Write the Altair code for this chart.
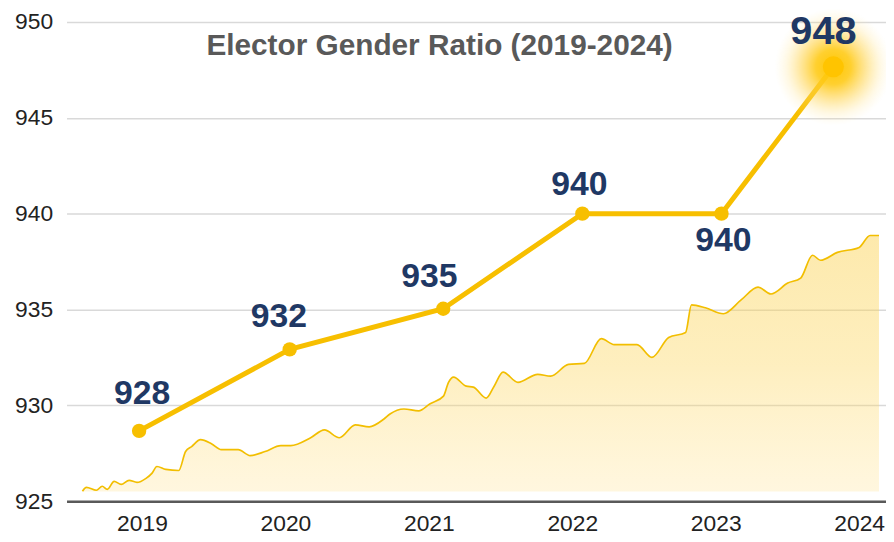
import altair as alt
import pandas as pd

# ---- data ----
years = [2018.98, 2020.03, 2021.10, 2022.07, 2023.04, 2023.82]
ratio = [928.67, 932.92, 935.04, 940.0, 940.0, 947.66]
ratio_labels = ["928", "932", "935", "940", "940", "948"]

trend_year = [
    2018.585, 2018.613, 2018.682, 2018.723, 2018.758, 2018.806, 2018.855, 2018.910,
    2018.965, 2019.028, 2019.069, 2019.104, 2019.166, 2019.256, 2019.304, 2019.346,
    2019.408, 2019.484, 2019.553, 2019.671, 2019.754, 2019.858, 2019.968, 2020.037,
    2020.176, 2020.272, 2020.376, 2020.487, 2020.584, 2020.687, 2020.729, 2020.826,
    2020.929, 2021.006, 2021.102, 2021.137, 2021.172, 2021.261, 2021.310, 2021.400,
    2021.455, 2021.517, 2021.621, 2021.759, 2021.849, 2021.974, 2022.084, 2022.202,
    2022.292, 2022.451, 2022.555, 2022.672, 2022.790, 2022.831, 2022.928, 2023.053,
    2023.177, 2023.295, 2023.385, 2023.502, 2023.592, 2023.675, 2023.730, 2023.848,
    2024.000, 2024.076, 2024.138,
]
trend_ratio = [
    925.52, 925.72, 925.57, 925.78, 925.62, 926.03, 925.88, 926.09,
    925.98, 926.19, 926.45, 926.81, 926.66, 926.60, 927.59, 927.85,
    928.21, 928.00, 927.69, 927.69, 927.38, 927.59, 927.90, 927.90,
    928.31, 928.72, 928.31, 928.98, 928.88, 929.29, 929.55, 929.81,
    929.71, 930.07, 930.48, 931.20, 931.47, 931.00, 930.95, 930.38,
    931.00, 931.73, 931.20, 931.62, 931.52, 932.14, 932.19, 933.48,
    933.17, 933.17, 932.50, 933.54, 933.80, 935.24, 935.09, 934.78,
    935.50, 936.17, 935.81, 936.38, 936.64, 937.83, 937.57, 937.98,
    938.24, 938.86, 938.86,
]
trend_base = 925.5
x_ticks = [2019, 2020, 2021, 2022, 2023, 2024]
y_ticks = [925, 930, 935, 940, 945, 950]
title_text = "Elector Gender Ratio (2019-2024)"

main = pd.DataFrame({"year": years, "ratio": ratio, "label": ratio_labels,
                     "idx": list(range(len(years)))})
trend = pd.DataFrame({"year": trend_year, "ratio": trend_ratio})

# ---- styles ----
LINE = "#F7BF00"
NAVY = "#1F3864"
label_offsets = {0: (3, -37), 1: (-11, -33), 2: (-14, -32), 3: (-3, -29), 4: (2, 28), 5: (-10, -35)}

X = alt.X("year:Q", title=None,
          scale=alt.Scale(domain=[2018.474, 2024.187], nice=False, zero=False),
          axis=alt.Axis(values=x_ticks, format="d", grid=False, ticks=False,
                        labelPadding=12, domain=True))
Y = alt.Y("ratio:Q", title=None,
          scale=alt.Scale(domain=[925, 950], nice=False, zero=False),
          axis=alt.Axis(values=y_ticks, grid=True, ticks=False, domain=False,
                        labelPadding=14))

area = alt.Chart(trend).mark_area(
    interpolate="monotone",
    color=alt.LinearGradient(
        gradient="linear",
        stops=[alt.GradientStop(color="rgba(255,220,120,0.34)", offset=0),
               alt.GradientStop(color="rgba(252,212,85,0.54)", offset=0.5),
               alt.GradientStop(color="rgba(251,208,75,0.66)", offset=1)],
        x1=1, x2=1, y1=1, y2=0),
    line={"color": "#F2BE00", "strokeWidth": 1.7, "interpolate": "monotone"},
).encode(x=X, y=Y, y2=alt.datum(trend_base))

line = alt.Chart(main).mark_line(color=LINE, strokeWidth=5).encode(x=X, y=Y)

glow = alt.Chart(main).transform_filter("datum.idx == 5").mark_circle(
    size=14000, opacity=1,
    color={"gradient": "radial",
           "x1": 0.5, "y1": 0.5, "r1": 0.0, "x2": 0.5, "y2": 0.5, "r2": 0.5,
           "stops": [{"offset": 0.0, "color": "rgba(255,198,0,1)"},
                     {"offset": 0.3, "color": "rgba(255,203,25,0.9)"},
                     {"offset": 0.55, "color": "rgba(255,210,70,0.55)"},
                     {"offset": 0.8, "color": "rgba(255,222,120,0.2)"},
                     {"offset": 1.0, "color": "rgba(255,235,170,0)"}]},
).encode(x=X, y=Y)

pts = alt.Chart(main).transform_filter("datum.idx < 5").mark_circle(
    size=210, color=LINE, opacity=1).encode(x=X, y=Y)
pt_last = alt.Chart(main).transform_filter("datum.idx == 5").mark_circle(
    size=450, color="#FFC400", opacity=1).encode(x=X, y=Y)

texts = []
for i, (dx, dy) in label_offsets.items():
    texts.append(
        alt.Chart(main).transform_filter(f"datum.idx == {i}").mark_text(
            font="Liberation Sans", fontWeight="bold",
            fontSize=40 if i == 5 else 34, color=NAVY,
            baseline="middle", align="center", dx=dx, dy=dy,
        ).encode(x=X, y=Y, text="label:N")
    )

title = alt.Chart(pd.DataFrame({"t": [title_text]})).mark_text(
    font="Liberation Sans", fontWeight="bold", fontSize=30, color="#595959",
    baseline="middle", align="center",
).encode(text="t:N", x=alt.value(376), y=alt.value(24))

chart = alt.layer(area, line, glow, pts, pt_last, *texts, title).properties(
    width=826, height=483,
    padding={"left": 59, "top": 12, "right": 0, "bottom": 34},
    autosize=alt.AutoSizeParams(type="none"),
    background="white",
).configure_view(stroke=None).configure_axis(
    labelFont="Liberation Sans", labelFontSize=23, labelColor="#222222",
    gridColor="#D9D9D9", gridWidth=1.5,
    domainColor="#595959", domainWidth=2.5,
)

chart.save("out.html", embed_options={"renderer": "svg", "actions": False})
